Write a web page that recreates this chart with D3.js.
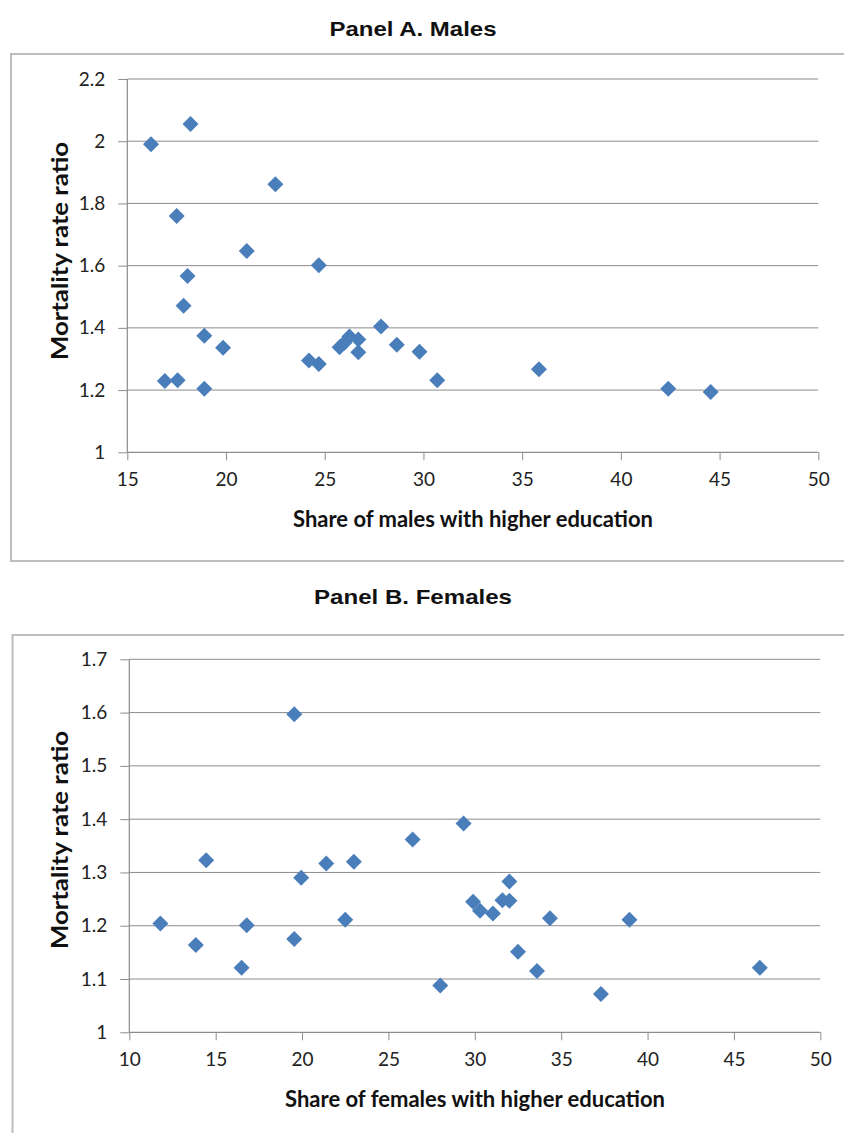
<!DOCTYPE html>
<html><head><meta charset="utf-8">
<script src="https://cdn.jsdelivr.net/npm/d3@7"></script>
<style>
body{margin:0;background:#fff;}
svg text{font-family:Lato,"Open Sans",sans-serif;}
</style></head>
<body><svg id="c" width="844" height="1133"></svg>
<script>
// Panel A: males
const maleShare = [16.2,18.2,22.5,17.5,21.05,24.7,18.05,17.85,18.9,19.85,16.9,17.55,18.9,24.2,24.7,25.75,26.0,26.25,26.7,26.7,27.85,28.65,29.8,30.7,35.85,42.4,44.55];
const maleRatio = [1.99,2.055,1.862,1.76,1.647,1.601,1.567,1.471,1.375,1.336,1.229,1.232,1.204,1.295,1.284,1.338,1.352,1.372,1.363,1.322,1.404,1.346,1.323,1.232,1.267,1.204,1.194];
// Panel B: females
const femaleShare = [11.8,13.85,14.45,16.5,16.8,19.55,19.55,19.95,21.4,23.0,22.5,26.4,28.0,29.35,29.9,30.3,31.05,31.6,32.0,32.0,32.5,33.6,34.35,37.3,38.95,46.5];
const femaleRatio = [1.204,1.164,1.323,1.121,1.201,1.597,1.175,1.29,1.317,1.32,1.211,1.362,1.088,1.392,1.245,1.228,1.223,1.248,1.247,1.283,1.151,1.115,1.214,1.072,1.211,1.121];

const xTicksA = [15,20,25,30,35,40,45,50];
const yTicksA = [1,1.2,1.4,1.6,1.8,2,2.2];
const xTicksB = [10,15,20,25,30,35,40,45,50];
const yTicksB = [1,1.1,1.2,1.3,1.4,1.5,1.6,1.7];

const svg = d3.select("#c");
const blue = "#4a7ebb", grid = "#8c8c8c";

function fit(sel, len){
  sel.attr("textLength", len).attr("lengthAdjust","spacingAndGlyphs");
}

function panel(o){
  const g = svg.append("g");
  g.append("rect").attr("x",o.frame[0]).attr("y",o.frame[1]).attr("width",o.frame[2]).attr("height",o.frame[3])
    .attr("fill","none").attr("stroke","#bdbdbd").attr("stroke-width",2);
  g.append("text").attr("x",413).attr("y",o.titleY).attr("text-anchor","middle")
    .style("font-family","'Liberation Sans',Arial,sans-serif").style("font-weight","bold").style("font-size","21px")
    .attr("fill","#111").text(o.title).call(fit, o.titleLen);
  const x = d3.scaleLinear().domain(o.xDom).range([o.l,o.r]);
  const y = d3.scaleLinear().domain(o.yDom).range([o.b,o.t]);
  g.append("g").selectAll("line").data(o.yTicks.slice(1)).join("line")
    .attr("x1",o.l).attr("x2",o.r).attr("y1",d=>y(d)).attr("y2",d=>y(d))
    .attr("stroke",grid).attr("stroke-width",1);
  const ax = g.append("g").attr("transform",`translate(0,${o.b})`)
    .call(d3.axisBottom(x).tickValues(o.xTicks).tickSize(8).tickPadding(12).tickFormat(d3.format("d")));
  const ay = g.append("g").attr("transform",`translate(${o.l},0)`)
    .call(d3.axisLeft(y).tickValues(o.yTicks).tickSize(9).tickPadding(13).tickFormat(d=>String(+d.toFixed(1))));
  [ax,ay].forEach(a=>{
    a.select(".domain").attr("stroke",grid).attr("stroke-width",1.2);
    a.selectAll(".tick line").attr("stroke",grid);
    a.selectAll("text").style("font-size","19px").attr("fill","#222");
  });
  ay.select(".domain").attr("d",`M0,${o.b}V${o.t}`);
  ax.select(".domain").attr("d",`M${o.l},0H${o.r}`);
  const sym = d3.symbol().type(d3.symbolSquare).size(128);
  g.append("g").selectAll("path").data(o.xs.map((v,i)=>[v,o.ys[i]])).join("path")
    .attr("d",sym).attr("fill",blue)
    .attr("transform",d=>`translate(${x(d[0])},${y(d[1])}) rotate(45)`);
  g.append("text").attr("x",o.xTitleC).attr("y",o.xTitleY).attr("text-anchor","middle")
    .style("font-weight","bold").style("font-size","22px").attr("fill","#111").text(o.xTitle).call(fit,o.xTitleLen);
  g.append("text").attr("transform",`translate(68,${o.yTitleC}) rotate(-90)`).attr("text-anchor","middle")
    .style("font-weight","bold").style("font-size","22px").attr("fill","#111").text("Mortality rate ratio").call(fit,218);
}

panel({frame:[11,54,840,507], title:"Panel A. Males", titleY:36, titleLen:167,
  xDom:[15,50], yDom:[1,2.2], l:127.3, r:818.3, t:79, b:452.3,
  xTicks:xTicksA, yTicks:yTicksA, xs:maleShare, ys:maleRatio,
  xTitle:"Share of males with higher education", xTitleC:473, xTitleLen:360, xTitleY:527, yTitleC:251});

panel({frame:[12.5,635,840,510], title:"Panel B. Females", titleY:604, titleLen:198,
  xDom:[10,50], yDom:[1,1.7], l:129.3, r:820.3, t:659.3, b:1032.3,
  xTicks:xTicksB, yTicks:yTicksB, xs:femaleShare, ys:femaleRatio,
  xTitle:"Share of females with higher education", xTitleC:475, xTitleLen:380, xTitleY:1107, yTitleC:840});
</script></body></html>
